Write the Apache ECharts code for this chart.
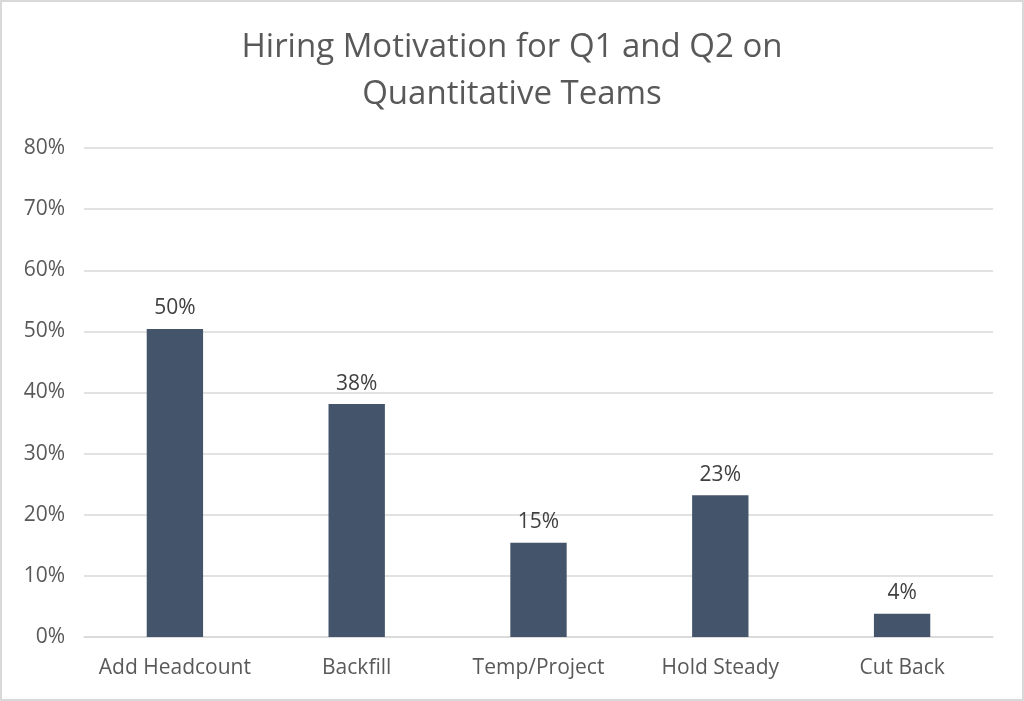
<!DOCTYPE html>
<html>
<head>
<meta charset="utf-8">
<script src="https://cdn.jsdelivr.net/npm/echarts@6/dist/echarts.min.js"></script>
<style>
html,body{margin:0;padding:0;background:#fff;}
#c{width:1024px;height:701px;box-sizing:border-box;border:2px solid #d9d9d9;}
</style>
</head>
<body>
<div id="c"></div>
<script>
const categories = ['Add Headcount', 'Backfill', 'Temp/Project', 'Hold Steady', 'Cut Back'];
const values = [50.4, 38.1, 15.4, 23.2, 3.8];
const titleText = 'Hiring Motivation for Q1 and Q2 on\nQuantitative Teams';

const chart = echarts.init(document.getElementById('c'));
chart.setOption({
  animation: false,
  textStyle: { fontFamily: 'Open Sans' },
  title: {
    text: titleText,
    left: 'center',
    top: 17,
    textStyle: { fontFamily: 'Open Sans', fontSize: 33, fontWeight: 'normal', color: '#595959', lineHeight: 47 }
  },
  grid: { left: 82, right: 29, top: 146, bottom: 62 },
  xAxis: {
    type: 'category',
    data: categories,
    axisLine: { show: true, lineStyle: { color: '#d9d9d9', width: 1.5 } },
    axisTick: { show: false },
    axisLabel: { color: '#595959', fontSize: 21, margin: 21, interval: 0, hideOverlap: false }
  },
  yAxis: {
    type: 'value',
    min: 0, max: 80, interval: 10,
    axisLine: { show: false },
    axisTick: { show: false },
    splitLine: { lineStyle: { color: '#d9d9d9', width: 1.5 } },
    axisLabel: { color: '#595959', fontSize: 21, margin: 19, formatter: v => v + '%' }
  },
  series: [{
    type: 'bar',
    data: values,
    barWidth: '31%',
    itemStyle: { color: '#44546a' },
    label: {
      show: true, position: 'top', distance: 10,
      color: '#404040', fontSize: 21,
      formatter: p => Math.round(p.value) + '%'
    }
  }]
});
</script>
</body>
</html>
